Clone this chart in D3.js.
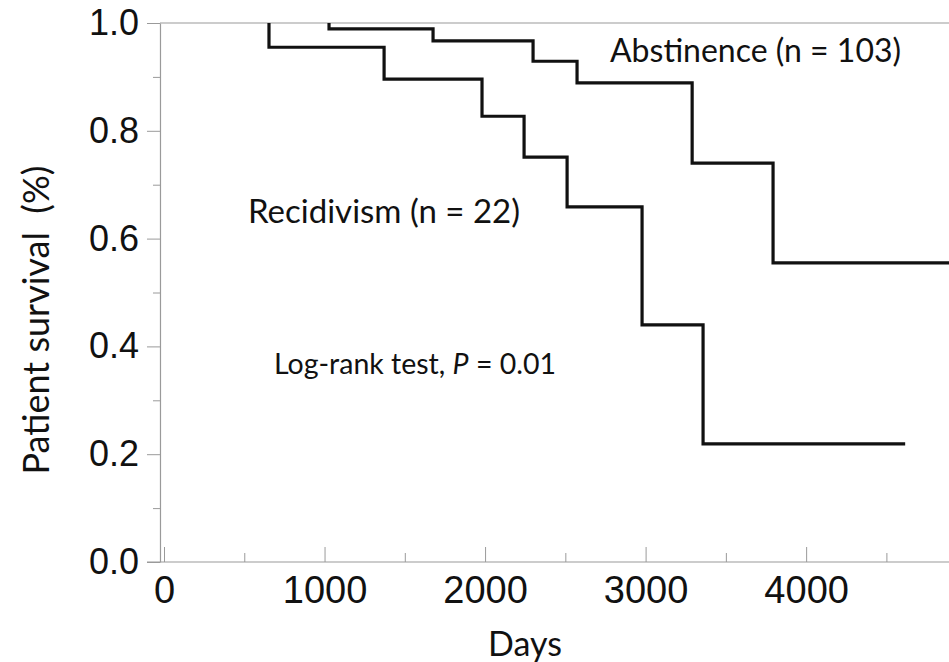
<!DOCTYPE html>
<html>
<head>
<meta charset="utf-8">
<script src="https://cdn.jsdelivr.net/npm/d3@7"></script>
<style>
  body { margin: 0; background: #fff; }
  svg { display: block; }
</style>
</head>
<body>
<div id="chart"></div>
<script>
// Kaplan-Meier steps
const abstinenceDays = [1028, 1676, 2299, 2573, 3290, 3794];
const abstinenceSurv = [0.989, 0.967, 0.929, 0.889, 0.740, 0.555];
const abstinenceEnd = 4950;

const recidivismDays = [654, 1371, 1981, 2243, 2511, 2978, 3358];
const recidivismSurv = [0.955, 0.896, 0.827, 0.751, 0.659, 0.440, 0.219];
const recidivismEnd = 4617;

const yMajor = [0, 0.2, 0.4, 0.6, 0.8, 1.0];
const yMinor = [0.1, 0.3, 0.5, 0.7, 0.9];
const xMajor = [0, 1000, 2000, 3000, 4000];
const xMinor = [500, 1500, 2500, 3500, 4500];

const size = { width: 949, height: 662 };
const margin = { top: 23, right: 0, bottom: 100, left: 164 };

const svg = d3.select('#chart')
  .append('svg')
  .attr('width', size.width)
  .attr('height', size.height);

const x = d3.scaleLinear()
  .domain([0, 4890])
  .range([margin.left, size.width - margin.right]);

const y = d3.scaleLinear()
  .domain([0, 1])
  .range([size.height - margin.bottom, margin.top]);

const axisGrey = '#9a9a9a';
const x0 = x(-25); // y axis sits a little left of day 0

// frame lines
svg.append('line')
  .attr('x1', x0).attr('x2', size.width)
  .attr('y1', y(1)).attr('y2', y(1))
  .attr('stroke', axisGrey).attr('stroke-width', 1.2);
svg.append('line')
  .attr('x1', x0 - 13).attr('x2', size.width)
  .attr('y1', y(0)).attr('y2', y(0))
  .attr('stroke', axisGrey).attr('stroke-width', 1.2);

// y axis
const yAxis = svg.append('g')
  .attr('transform', `translate(${x0},0)`)
  .call(d3.axisLeft(y).tickValues(yMajor).tickSize(13).tickSizeOuter(0)
    .tickPadding(8).tickFormat(d3.format('.1f')));
yAxis.select('.domain').attr('stroke', axisGrey).attr('stroke-width', 1.2);
yAxis.selectAll('.tick line').attr('stroke', axisGrey);
yAxis.selectAll('.tick text')
  .attr('fill', '#111')
  .style('font-family', '"Liberation Sans", Arial, sans-serif')
  .style('font-size', '36px');

svg.append('g')
  .attr('transform', `translate(${x0},0)`)
  .call(d3.axisLeft(y).tickValues(yMinor).tickSize(7).tickFormat(''))
  .call((g) => g.select('.domain').remove())
  .selectAll('.tick line').attr('stroke', axisGrey);

// x axis, ticks point into the plot
const xAxis = svg.append('g')
  .attr('transform', `translate(0,${y(0)})`)
  .call(d3.axisBottom(x).tickValues(xMajor).tickSize(-15).tickPadding(14)
    .tickFormat(d3.format('d')));
xAxis.select('.domain').remove();
xAxis.selectAll('.tick line').attr('stroke', axisGrey);
xAxis.selectAll('.tick text')
  .attr('fill', '#111')
  .style('font-family', '"Liberation Sans", Arial, sans-serif')
  .style('font-size', '38px');

svg.append('g')
  .attr('transform', `translate(0,${y(0)})`)
  .call(d3.axisBottom(x).tickValues(xMinor).tickSize(-9).tickFormat(''))
  .call((g) => g.select('.domain').remove())
  .selectAll('.tick line').attr('stroke', axisGrey);

// survival curves
const steps = (days, surv, end) => {
  const pts = [{ d: days[0], s: 1 }];
  days.forEach((d, i) => pts.push({ d, s: surv[i] }));
  pts.push({ d: end, s: surv[surv.length - 1] });
  return pts;
};

const line = d3.line()
  .x((p) => x(p.d))
  .y((p) => y(p.s))
  .curve(d3.curveStepAfter);

svg.append('clipPath').attr('id', 'plot-clip')
  .append('rect')
  .attr('x', x0).attr('y', 0)
  .attr('width', size.width - x0).attr('height', y(0));

const curves = [
  steps(abstinenceDays, abstinenceSurv, abstinenceEnd),
  steps(recidivismDays, recidivismSurv, recidivismEnd),
];

svg.append('g')
  .attr('clip-path', 'url(#plot-clip)')
  .selectAll('path')
  .data(curves)
  .join('path')
  .attr('d', line)
  .attr('fill', 'none')
  .attr('stroke', '#111')
  .attr('stroke-width', 3.2);

// labels
const labelFont = 'Lato, "Open Sans", sans-serif';

svg.append('text')
  .attr('x', 610).attr('y', 62)
  .style('font-family', labelFont).style('font-size', '32px')
  .attr('fill', '#111')
  .text('Abstinence (n = 103)');

svg.append('text')
  .attr('x', 248).attr('y', 223)
  .style('font-family', labelFont).style('font-size', '33px')
  .attr('fill', '#111')
  .text('Recidivism (n = 22)');

const logRank = svg.append('text')
  .attr('x', 274).attr('y', 374)
  .style('font-family', labelFont).style('font-size', '28.5px')
  .attr('fill', '#111');
logRank.append('tspan').text('Log-rank test, ');
logRank.append('tspan').style('font-style', 'italic').text('P');
logRank.append('tspan').text(' = 0.01');

svg.append('text')
  .attr('x', 525).attr('y', 656)
  .attr('text-anchor', 'middle')
  .style('font-family', labelFont).style('font-size', '34px')
  .attr('fill', '#111')
  .text('Days');

svg.append('text')
  .attr('transform', 'translate(49,320) rotate(-90)')
  .attr('text-anchor', 'middle')
  .style('font-family', labelFont).style('font-size', '36px')
  .style('white-space', 'pre')
  .attr('fill', '#111')
  .text('Patient survival  (%)');
</script>
</body>
</html>
